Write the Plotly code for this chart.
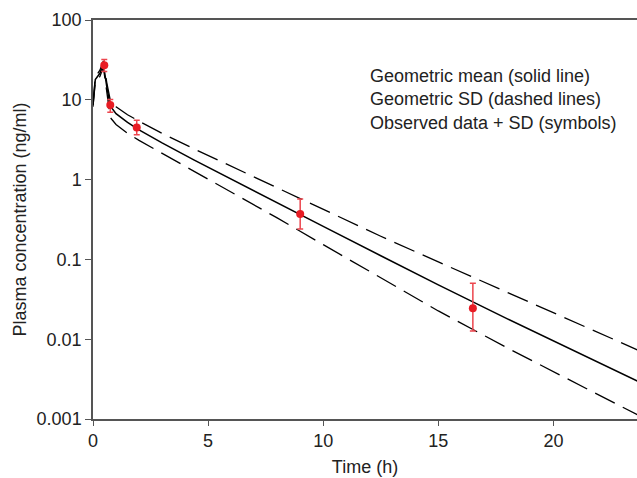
import plotly.graph_objects as go

# Model curves
t_model = [0, 0.1, 0.3, 0.45, 0.6, 0.75, 1.0, 1.5, 2.0, 3.0, 4.4, 6.0, 8.0, 10.0, 12.5, 15.0, 18.0, 21.0, 23.7]
geo_mean = [8.6, 18.0, 21.5, 28.0, 14.5, 8.4, 6.7, 5.2, 4.2, 2.88, 1.75, 1.01, 0.513, 0.259, 0.111, 0.0479, 0.0180, 0.00692, 0.00294]
geo_upper = [9.0, 19.3, 23.5, 30.7, 16.3, 9.9, 8.2, 6.5, 5.4, 3.8, 2.42, 1.47, 0.794, 0.427, 0.195, 0.093, 0.0387, 0.0159, 0.00724]
geo_lower = [8.2, 16.8, 19.6, 25.5, 12.6, 6.0, 4.9, 3.8, 3.1, 2.14, 1.27, 0.708, 0.331, 0.153, 0.0582, 0.0226, 0.00776, 0.00279, 0.00111]

# Observed data
t_obs = [0.49, 0.75, 1.9, 9.0, 16.5]
c_obs = [27.1, 8.6, 4.5, 0.37, 0.0244]
c_obs_hi = [31.9, 10.1, 5.56, 0.57, 0.0502]
c_obs_lo = [22.6, 7.0, 3.64, 0.24, 0.0127]

legend_lines = ["Geometric mean (solid line)", "Geometric SD (dashed lines)", "Observed data + SD (symbols)"]

FONT = "Liberation Sans, Arial, sans-serif"
TXT = "#222222"
AX = "#555555"
FS = 18

fig = go.Figure()
dash_style = "22px,9px"
fig.add_trace(go.Scatter(x=t_model, y=geo_upper, mode="lines",
                         line=dict(color="black", width=1.3, dash=dash_style), showlegend=False))
fig.add_trace(go.Scatter(x=t_model, y=geo_lower, mode="lines",
                         line=dict(color="black", width=1.3, dash=dash_style), showlegend=False))
fig.add_trace(go.Scatter(x=t_model, y=geo_mean, mode="lines",
                         line=dict(color="black", width=1.5), showlegend=False))
fig.add_trace(go.Scatter(
    x=t_obs, y=c_obs, mode="markers",
    marker=dict(color="rgb(232,28,36)", size=8),
    error_y=dict(type="data", symmetric=False,
                 array=[h - c for h, c in zip(c_obs_hi, c_obs)],
                 arrayminus=[c - l for c, l in zip(c_obs, c_obs_lo)],
                 color="rgb(236,70,78)", thickness=1.5, width=3),
    showlegend=False))

fig.add_annotation(x=(368 - 93) / (637 - 93), y=1 - (64 - 20) / (419 - 20),
                   xref="paper", yref="paper", text="<br>".join(legend_lines),
                   showarrow=False, align="left", xanchor="left", yanchor="top",
                   font=dict(family=FONT, size=FS, color=TXT))

fig.update_xaxes(range=[0, 23.63], tickvals=[0, 5, 10, 15, 20], ticks="outside", ticklen=5,
                 tickcolor=AX, showline=True, linecolor=AX, linewidth=1.5, mirror=True,
                 showgrid=False, zeroline=False,
                 title=dict(text="Time (h)", font=dict(family=FONT, size=FS, color=TXT), standoff=10),
                 tickfont=dict(family=FONT, size=FS, color=TXT))
fig.update_yaxes(type="log", range=[-3, 2], tickvals=[0.001, 0.01, 0.1, 1, 10, 100],
                 ticktext=["0.001", "0.01", "0.1", "1", "10", "100"], ticks="outside", ticklen=6,
                 tickcolor=AX, showline=True, linecolor=AX, linewidth=1.5,
                 showgrid=False, zeroline=False,
                 title=dict(text="Plasma concentration (ng/ml)", font=dict(family=FONT, size=FS, color=TXT), standoff=5),
                 tickfont=dict(family=FONT, size=FS, color=TXT))
fig.update_layout(width=637, height=478, margin=dict(l=93, r=0, t=20, b=59),
                  plot_bgcolor="white", paper_bgcolor="white")
fig.write_html("out.html")
